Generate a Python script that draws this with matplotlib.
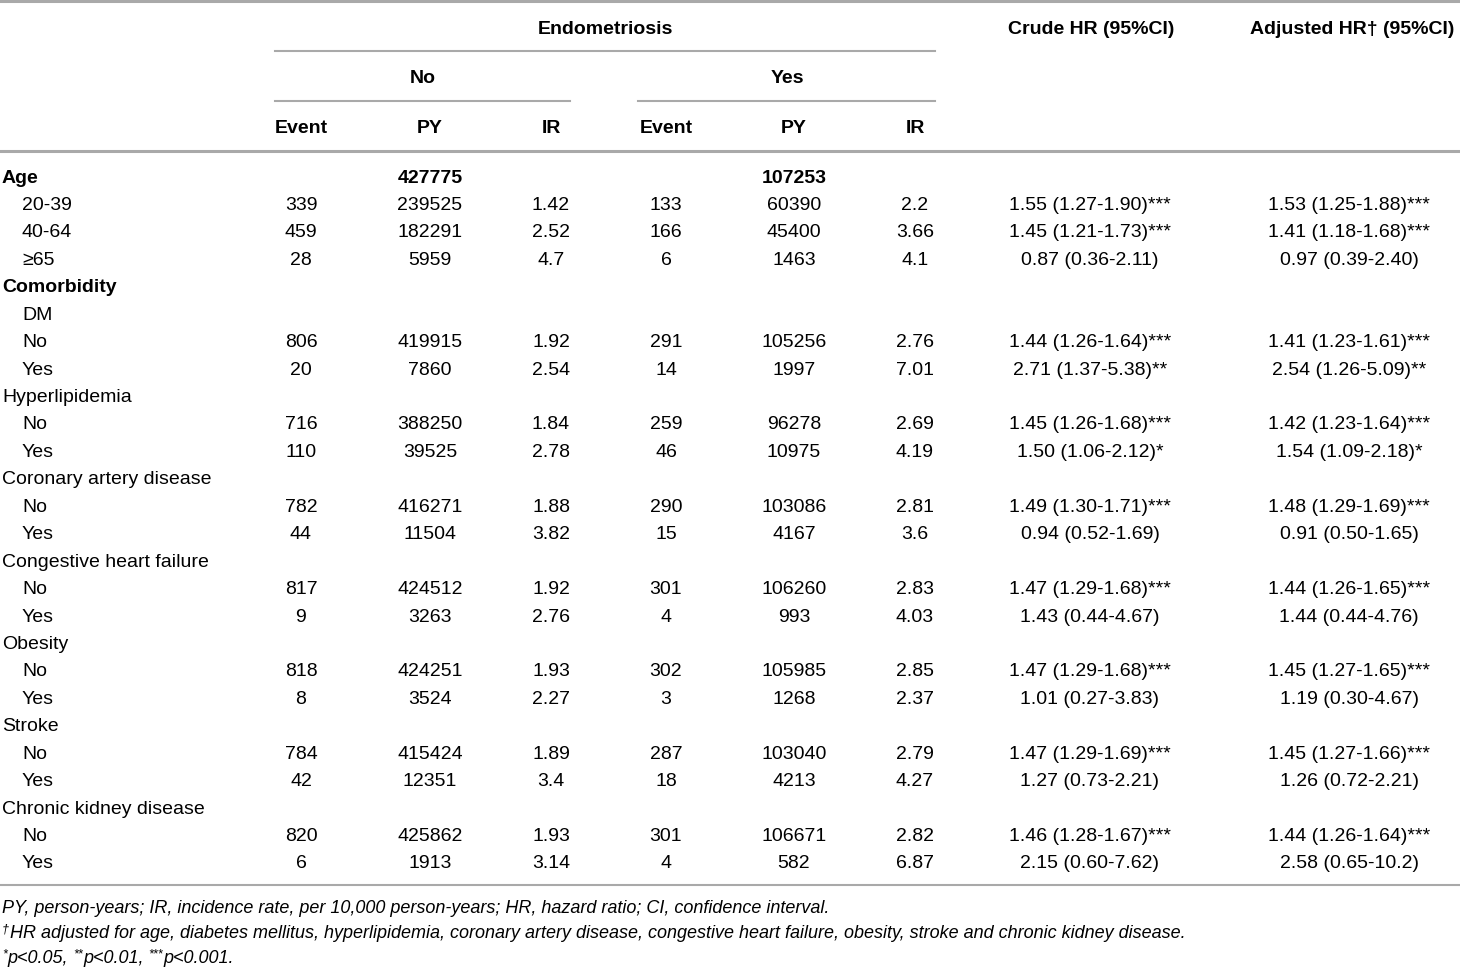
import matplotlib.pyplot as plt
from matplotlib import font_manager

# pick a narrow sans if available
names = {f.name for f in font_manager.fontManager.ttflist}
FONT = 'Liberation Sans Narrow' if 'Liberation Sans Narrow' in names else 'Liberation Sans'
plt.rcParams['font.family'] = [FONT, 'DejaVu Sans']

# table data
row_labels = ['Age', '20-39', '40-64', '\u226565', 'Comorbidity', 'DM', 'No', 'Yes',
              'Hyperlipidemia', 'No', 'Yes', 'Coronary artery disease', 'No', 'Yes',
              'Congestive heart failure', 'No', 'Yes', 'Obesity', 'No', 'Yes',
              'Stroke', 'No', 'Yes', 'Chronic kidney disease', 'No', 'Yes']
indent = [0, 1, 1, 1, 0, 1, 1, 1, 0, 1, 1, 0, 1, 1, 0, 1, 1, 0, 1, 1, 0, 1, 1, 0, 1, 1]
bold_rows = ['Age', 'Comorbidity']

no_event = ['', '339', '459', '28', '', '', '806', '20', '', '716', '110', '', '782', '44',
            '', '817', '9', '', '818', '8', '', '784', '42', '', '820', '6']
no_py = ['427775', '239525', '182291', '5959', '', '', '419915', '7860', '', '388250', '39525',
         '', '416271', '11504', '', '424512', '3263', '', '424251', '3524', '', '415424',
         '12351', '', '425862', '1913']
no_ir = ['', '1.42', '2.52', '4.7', '', '', '1.92', '2.54', '', '1.84', '2.78', '', '1.88',
         '3.82', '', '1.92', '2.76', '', '1.93', '2.27', '', '1.89', '3.4', '', '1.93', '3.14']
yes_event = ['', '133', '166', '6', '', '', '291', '14', '', '259', '46', '', '290', '15',
             '', '301', '4', '', '302', '3', '', '287', '18', '', '301', '4']
yes_py = ['107253', '60390', '45400', '1463', '', '', '105256', '1997', '', '96278', '10975',
          '', '103086', '4167', '', '106260', '993', '', '105985', '1268', '', '103040',
          '4213', '', '106671', '582']
yes_ir = ['', '2.2', '3.66', '4.1', '', '', '2.76', '7.01', '', '2.69', '4.19', '', '2.81',
          '3.6', '', '2.83', '4.03', '', '2.85', '2.37', '', '2.79', '4.27', '', '2.82', '6.87']
crude_hr = ['', '1.55 (1.27-1.90)***', '1.45 (1.21-1.73)***', '0.87 (0.36-2.11)', '', '',
            '1.44 (1.26-1.64)***', '2.71 (1.37-5.38)**', '', '1.45 (1.26-1.68)***',
            '1.50 (1.06-2.12)*', '', '1.49 (1.30-1.71)***', '0.94 (0.52-1.69)', '',
            '1.47 (1.29-1.68)***', '1.43 (0.44-4.67)', '', '1.47 (1.29-1.68)***',
            '1.01 (0.27-3.83)', '', '1.47 (1.29-1.69)***', '1.27 (0.73-2.21)', '',
            '1.46 (1.28-1.67)***', '2.15 (0.60-7.62)']
adj_hr = ['', '1.53 (1.25-1.88)***', '1.41 (1.18-1.68)***', '0.97 (0.39-2.40)', '', '',
          '1.41 (1.23-1.61)***', '2.54 (1.26-5.09)**', '', '1.42 (1.23-1.64)***',
          '1.54 (1.09-2.18)*', '', '1.48 (1.29-1.69)***', '0.91 (0.50-1.65)', '',
          '1.44 (1.26-1.65)***', '1.44 (0.44-4.76)', '', '1.45 (1.27-1.65)***',
          '1.19 (0.30-4.67)', '', '1.45 (1.27-1.66)***', '1.26 (0.72-2.21)', '',
          '1.44 (1.26-1.64)***', '2.58 (0.65-10.2)']
sub_headers = ['Event', 'PY', 'IR', 'Event', 'PY', 'IR']
# footnotes as (text, superscript?) pieces
footnotes = [[('PY, person-years; IR, incidence rate, per 10,000 person-years; HR, hazard ratio; CI, confidence interval.', False)],
             [('\u2020', True),
              ('HR adjusted for age, diabetes mellitus, hyperlipidemia, coronary artery disease, congestive heart failure, obesity, stroke and chronic kidney disease.', False)],
             [('*', True), ('p<0.05, ', False), ('**', True), ('p<0.01, ', False),
              ('***', True), ('p<0.001.', False)]]

W, H = 1460, 969
fig = plt.figure(figsize=(W / 100, H / 100), dpi=100)
ax = fig.add_axes([0, 0, 1, 1])
ax.set_xlim(0, W)
ax.set_ylim(H, 0)
ax.axis('off')

FS = 14
col_x = [301, 430, 551, 666, 794, 915, 1090, 1349]
line_c = '#a9a9a9'
dyt = 2  # small baseline nudge

# header
ax.plot([0, W], [1, 1], color=line_c, lw=2.2)
ax.text(605, 27 + dyt, 'Endometriosis', ha='center', va='center', fontsize=FS, fontweight='bold')
ax.text(1091, 27 + dyt, 'Crude HR (95%CI)', ha='center', va='center', fontsize=FS, fontweight='bold')
ax.text(1352, 27 + dyt, 'Adjusted HR\u2020 (95%CI)', ha='center', va='center', fontsize=FS, fontweight='bold')
ax.plot([275, 935], [51, 51], color=line_c, lw=1.5)
ax.text(423, 76 + dyt, 'No', ha='center', va='center', fontsize=FS, fontweight='bold')
ax.text(787, 76 + dyt, 'Yes', ha='center', va='center', fontsize=FS, fontweight='bold')
ax.plot([275, 570], [101, 101], color=line_c, lw=1.5)
ax.plot([638, 935], [101, 101], color=line_c, lw=1.5)
for x, s in zip(col_x[:6], sub_headers):
    ax.text(x, 126 + dyt, s, ha='center', va='center', fontsize=FS, fontweight='bold')
ax.plot([0, W], [151, 151], color=line_c, lw=2.2)

# body
y0, dy = 176, 27.44
cols = [no_event, no_py, no_ir, yes_event, yes_py, yes_ir, crude_hr, adj_hr]
for i, lab in enumerate(row_labels):
    y = y0 + i * dy + dyt
    bold = lab in bold_rows and indent[i] == 0
    ax.text(2 + 20 * indent[i], y, lab, ha='left', va='center', fontsize=FS,
            fontweight='bold' if bold else 'normal')
    for x, col in zip(col_x, cols):
        if col[i]:
            ax.text(x, y, col[i], ha='center', va='center', fontsize=FS,
                    fontweight='bold' if i == 0 else 'normal')

ax.plot([0, W], [885, 885], color=line_c, lw=1.5)

# footnotes: place pieces one after the other, measuring each width
renderer = fig.canvas.get_renderer()
for k, pieces in enumerate(footnotes):
    x = 2
    base = 913 + k * 25
    for s, sup in pieces:
        t = ax.text(x, base - (6 if sup else 0), s, ha='left', va='baseline',
                    fontsize=9 if sup else 13, style='italic')
        x = t.get_window_extent(renderer).x1 + (0.5 if sup else 0)

fig.savefig('out.png', dpi=100)
